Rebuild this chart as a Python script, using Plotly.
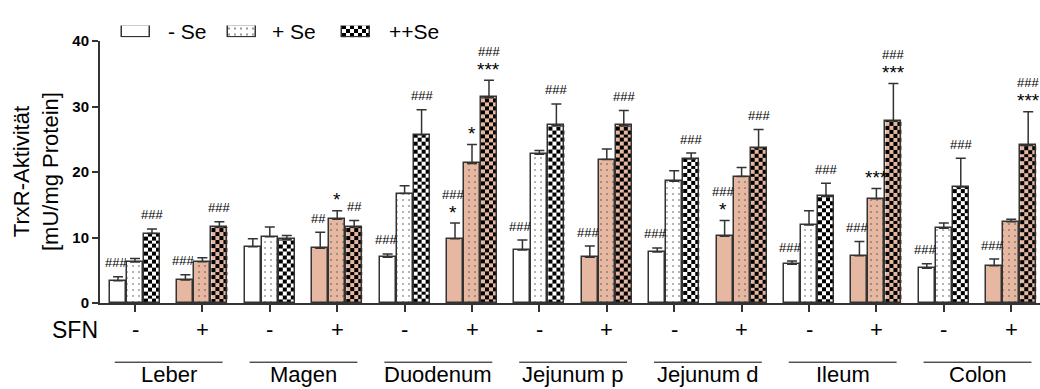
import numpy as np
import plotly.graph_objects as go

# ---------------- data ----------------
organs = ["Leber", "Magen", "Duodenum", "Jejunum p", "Jejunum d", "Ileum", "Colon"]
sfn = ["-", "+"] * 7

se_minus = [3.4, 3.5, 8.6, 8.35, 7.0, 9.8, 8.1, 7.0, 7.8, 10.2, 5.9, 7.2, 5.3, 5.7]
se_minus_sd = [0.6, 0.8, 1.2, 2.45, 0.5, 2.4, 1.5, 1.7, 0.6, 2.4, 0.5, 2.2, 0.7, 1.0]
se_plus = [6.27, 6.3, 10.1, 12.8, 16.7, 21.3, 22.7, 21.9, 18.6, 19.3, 11.9, 15.9, 11.4, 12.4]
se_plus_sd = [0.53, 0.6, 1.5, 1.3, 1.2, 2.9, 0.6, 1.6, 1.6, 1.4, 2.2, 1.6, 0.8, 0.4]
se_pp = [10.6, 11.6, 9.7, 11.6, 25.7, 31.4, 27.1, 27.1, 22.0, 23.7, 16.3, 27.8, 17.7, 24.1]
se_pp_sd = [0.7, 0.8, 0.6, 1.0, 3.8, 2.6, 3.3, 2.3, 0.9, 2.8, 2.0, 5.7, 4.4, 5.1]

hash_minus = ["###", "###", "", "##", "###", "###", "###", "###", "###", "###", "###", "###", "###", "###"]
star_minus = ["", "", "", "", "", "*", "", "", "", "*", "", "", "", ""]
hash_plus = [""] * 14
star_plus = ["", "", "", "*", "", "*", "", "", "", "", "", "***", "", ""]
hash_pp = ["###", "###", "", "##", "###", "###", "###", "###", "###", "###", "###", "###", "###", "###"]
star_pp = ["", "", "", "", "", "***", "", "", "", "", "", "***", "", "***"]

legend_labels = ["- Se", "+ Se", "++Se"]
y_ticks = [0, 10, 20, 30, 40]

# ---------------- style ----------------
FONT = "Liberation Sans, Arial, sans-serif"
SALMON = "#E6B8A2"
EDGE = "#333333"
OFF = 0.252
W = 0.237
CELL = 0.6

n = len(se_minus)
pos = np.arange(n)
bg = [SALMON if s == "+" else "white" for s in sfn]

fig = go.Figure()

err_style = dict(type="data", symmetric=False, arrayminus=[0] * n,
                 color=EDGE, thickness=1.5, width=5)

# - Se bars
fig.add_trace(go.Bar(
    x=pos - OFF, y=se_minus, width=W,
    marker=dict(color=bg, line=dict(color=EDGE, width=1.5)),
    error_y=dict(array=se_minus_sd, **err_style),
    showlegend=False, hoverinfo="skip"))

# + Se bars (dotted)
fig.add_trace(go.Bar(
    x=pos, y=se_plus, width=W,
    marker=dict(color=bg, line=dict(color=EDGE, width=1.5),
                pattern=dict(shape=".", fgcolor="black", bgcolor=bg,
                             size=6, solidity=0.1)),
    error_y=dict(array=se_plus_sd, **err_style),
    showlegend=False, hoverinfo="skip"))

# ++Se bars (checkerboard drawn as heatmap cells inside each bar)
for i in range(n):
    v = se_pp[i]
    xc = pos[i] + OFF
    xe = np.linspace(xc - W / 2, xc + W / 2, 5)
    ye = np.arange(0, v, CELL)
    ye = np.append(ye, v)
    nr = len(ye) - 1
    z = [[(r + c) % 2 for c in range(4)] for r in range(nr)]
    fig.add_trace(go.Heatmap(
        x=xe, y=ye, z=z, zmin=0, zmax=1,
        colorscale=[[0, "black"], [1, bg[i]]],
        showscale=False, hoverinfo="skip", zsmooth=False))

fig.add_trace(go.Bar(
    x=pos + OFF, y=se_pp, width=W,
    marker=dict(color="rgba(0,0,0,0)", line=dict(color=EDGE, width=1.5)),
    error_y=dict(array=se_pp_sd, **err_style),
    showlegend=False, hoverinfo="skip"))

# ---------------- significance labels ----------------
ann = []


def add_sig(xs, tops, hashes, stars, xshift=0):
    for xv, top, h, s in zip(xs, tops, hashes, stars):
        if s:
            ann.append(dict(x=xv, y=top, xref="x", yref="y", text=s,
                            showarrow=False, yanchor="middle", yshift=11, xshift=xshift,
                            font=dict(family=FONT, size=19, color="black")))
        if h:
            ann.append(dict(x=xv, y=top, xref="x", yref="y", text=h,
                            showarrow=False, yanchor="middle",
                            yshift=29 if s else 14, xshift=xshift,
                            font=dict(family=FONT, size=13, color="black")))


add_sig(pos - OFF, np.add(se_minus, se_minus_sd), hash_minus, star_minus, xshift=-2)
add_sig(pos, np.add(se_plus, se_plus_sd), hash_plus, star_plus)
add_sig(pos + OFF, np.add(se_pp, se_pp_sd), hash_pp, star_pp)

# SFN row
for i in range(n):
    ann.append(dict(x=pos[i], y=0, xref="x", yref="y", text=sfn[i], showarrow=False,
                    yanchor="middle", yshift=-27,
                    font=dict(family=FONT, size=22, color="black")))
ann.append(dict(x=0, y=0, xref="paper", yref="y", text="SFN", showarrow=False,
                xanchor="right", yanchor="middle", yshift=-27,
                font=dict(family=FONT, size=23, color="black")))

# organ group labels and lines
shapes = []
for k, name in enumerate(organs):
    cx = 2 * k + 0.5
    ann.append(dict(x=cx, y=0, xref="x", yref="paper", text=name, showarrow=False,
                    yanchor="bottom", yshift=-86,
                    font=dict(family=FONT, size=22, color="black")))
    shapes.append(dict(type="line", xref="x", yref="paper",
                       x0=cx - 0.8, x1=cx + 0.8, y0=-61 / 303, y1=-61 / 303,
                       line=dict(color="black", width=1)))

# y title
ann.append(dict(x=0, y=0.4455, xref="paper", yref="paper",
                text="TrxR-Aktivität<br>[mU/mg Protein]", textangle=-90,
                showarrow=False, xanchor="center", yanchor="middle", xshift=-64,
                font=dict(family=FONT, size=22, color="black")))

# ---------------- legend (own small axes, units = pixels) ----------------
leg_box_x = [136, 241.5, 355.5]
leg_text_x = [166, 270, 387]
fig.add_trace(go.Bar(x=leg_box_x[:2], y=[1, 1], width=28, xaxis="x2", yaxis="y2",
                     marker=dict(color="white", line=dict(color=EDGE, width=1.5),
                                 pattern=dict(shape=["", "."], fgcolor="black",
                                              bgcolor="white", size=6, solidity=0.1)),
                     showlegend=False, hoverinfo="skip"))
lx = np.linspace(leg_box_x[2] - 14, leg_box_x[2] + 14, 8)
ly = np.linspace(0, 1, 4)
fig.add_trace(go.Heatmap(x=lx, y=ly, z=[[(r + c) % 2 for c in range(7)] for r in range(3)],
                         zmin=0, zmax=1, colorscale=[[0, "black"], [1, "white"]],
                         showscale=False, hoverinfo="skip", xaxis="x2", yaxis="y2"))
fig.add_trace(go.Bar(x=[leg_box_x[2]], y=[1], width=28, xaxis="x2", yaxis="y2",
                     marker=dict(color="rgba(0,0,0,0)", line=dict(color=EDGE, width=1.5)),
                     showlegend=False, hoverinfo="skip"))
for tx, lab in zip(leg_text_x, legend_labels):
    ann.append(dict(x=tx, y=0.5, xref="x2", yref="y2", text=lab, showarrow=False,
                    xanchor="left", yanchor="middle",
                    font=dict(family=FONT, size=21, color="black")))

fig.update_layout(
    width=1040, height=389,
    margin=dict(l=100, r=0, t=0, b=86),
    plot_bgcolor="white", paper_bgcolor="white",
    barmode="overlay", bargap=0,
    showlegend=False,
    annotations=ann, shapes=shapes,
    font=dict(family=FONT, color="black"),
    xaxis=dict(range=[-35 / 67.4, 905 / 67.4], tickvals=list(pos), ticktext=[""] * n,
               showline=True, linecolor=EDGE, linewidth=2, ticks="outside",
               ticklen=7, tickwidth=1.5, tickcolor=EDGE, showgrid=False, zeroline=False,
               fixedrange=True),
    yaxis=dict(domain=[0, 270 / 303], range=[0, 40], tickvals=y_ticks,
               showline=True, linecolor=EDGE, linewidth=2, ticks="outside",
               ticklen=6, tickwidth=2, tickcolor=EDGE, showgrid=False, zeroline=False,
               tickfont=dict(family=FONT, size=15, color="black", weight="bold")),
    xaxis2=dict(domain=[0, 1], range=[100, 1040], anchor="y2", visible=False),
    yaxis2=dict(domain=[(303 - 29) / 303, (303 - 17) / 303], range=[0, 1],
                anchor="x2", visible=False),
)

fig.write_html("out.html")
